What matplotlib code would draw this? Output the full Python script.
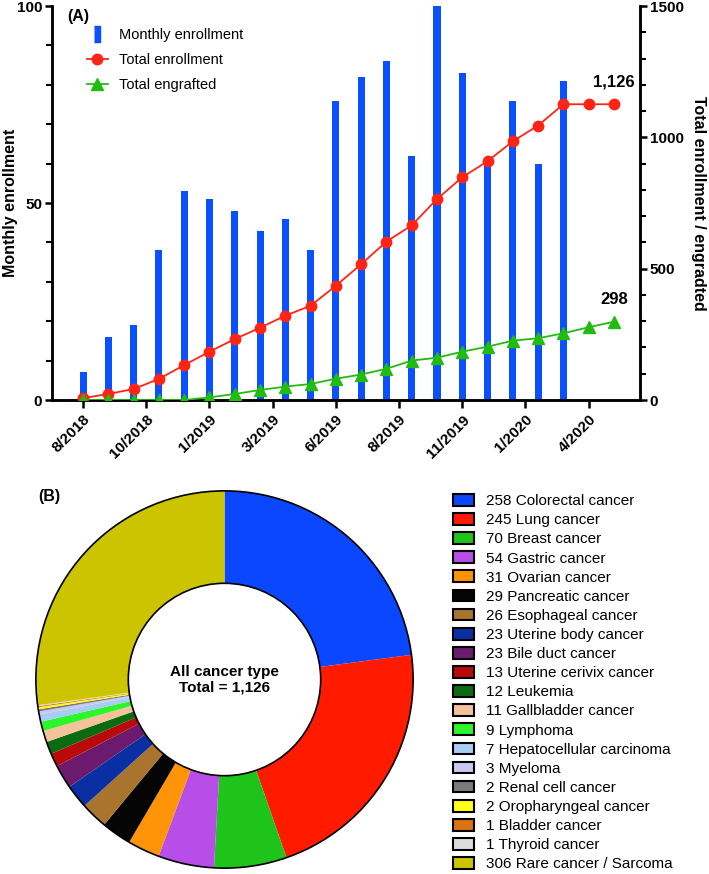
import numpy as np
import matplotlib
matplotlib.use("Agg")
from matplotlib import pyplot as plt
from matplotlib.lines import Line2D
from matplotlib.patches import Patch, Circle
from matplotlib.ticker import MultipleLocator

# ---- data (A) ----
months = np.arange(22)
monthly = [7, 16, 19, 38, 53, 51, 48, 43, 46, 38, 76, 82, 86, 62, 100, 83, 61, 76, 60, 81]
total_enrolled = [7, 23, 42, 80, 133, 184, 232, 275, 321, 359, 435, 517, 603, 665, 765,
                  848, 909, 985, 1045, 1126, 1126, 1126]
total_engrafted = [0, 0, 0, 0, 0, 10, 23, 38, 51, 61, 81, 97, 119, 150, 161, 184, 203,
                   226, 235, 254, 277, 298]
tick_pos = [0, 2.5, 5, 7.5, 10, 12.5, 15, 17.5, 20]
tick_labels = ["8/2018", "10/2018", "1/2019", "3/2019", "6/2019", "8/2019",
               "11/2019", "1/2020", "4/2020"]

# ---- data (B) ----
cancer_counts = [258, 245, 70, 54, 31, 29, 26, 23, 23, 13, 12, 11, 9, 7, 3, 2, 2, 1, 1, 306]
cancer_names = ["Colorectal cancer", "Lung cancer", "Breast cancer", "Gastric cancer",
                "Ovarian cancer", "Pancreatic cancer", "Esophageal cancer",
                "Uterine body cancer", "Bile duct cancer", "Uterine cerivix cancer",
                "Leukemia", "Gallbladder cancer", "Lymphoma", "Hepatocellular carcinoma",
                "Myeloma", "Renal cell cancer", "Oropharyngeal cancer", "Bladder cancer",
                "Thyroid cancer", "Rare cancer / Sarcoma"]
cancer_colors = ["#0a47ff", "#ff1a00", "#1fc41a", "#b84ee8", "#ff9408", "#050505",
                 "#a8742e", "#0a2fa3", "#6b1a6e", "#b80a0a", "#0b6b12", "#f5c29a",
                 "#2cf52c", "#a8cdf5", "#c9c9f5", "#7a7a7a", "#ffff1a", "#d9720f",
                 "#dcdcdc", "#cdc400"]

plt.rcParams["font.family"] = ["Liberation Sans", "DejaVu Sans"]

fig = plt.figure(figsize=(7.09, 8.74), dpi=100)

# ---------- panel A ----------
ax = fig.add_axes([52/709, 1-400/874, 588/709, 394/874])
ax2 = ax.twinx()
ax.set_zorder(ax2.get_zorder() - 1)
ax.patch.set_visible(True)
ax2.patch.set_visible(False)

bar_blue = "#0a50ff"
ax.bar(months[:len(monthly)], monthly, width=0.28, color=bar_blue, zorder=2)
ax2.plot(months, total_enrolled, "-o", color="#ff2415", lw=1.3, ms=7.5, zorder=3)
ax2.plot(months, total_engrafted, "-^", color="#22bb11", lw=1.3, ms=8, zorder=4)

ax.set_xlim(-1.23, 22.03)
ax.set_ylim(0, 100)
ax2.set_ylim(0, 1500)
ax.yaxis.set_major_locator(MultipleLocator(50))
ax.yaxis.set_minor_locator(MultipleLocator(10))
ax2.yaxis.set_major_locator(MultipleLocator(500))
ax2.yaxis.set_minor_locator(MultipleLocator(100))
ax.set_xticks(tick_pos)
ax.set_xticklabels(tick_labels, rotation=45, ha="right", rotation_mode="anchor",
                   fontweight="bold", fontsize=10)

for a in (ax, ax2):
    a.spines["top"].set_visible(False)
    for s in ("left", "right", "bottom"):
        a.spines[s].set_linewidth(1.8)
    a.tick_params(which="major", width=1.8, length=5, labelsize=11, pad=2)
    a.tick_params(which="minor", width=1.5, length=4)
    for lab in a.get_yticklabels():
        lab.set_fontweight("bold")
ax.tick_params(axis="x", which="major", length=6, pad=3)

ax.set_ylabel("Monthly enrollment", fontweight="bold", fontsize=11.5)
ax.yaxis.set_label_coords(-0.057, 0.5)
ax2.set_ylabel("Total enrollment / engradted", fontweight="bold", fontsize=11.5,
               rotation=270, va="center")
ax2.yaxis.set_label_coords(1.10, 0.5)

ax2.text(21, 1210, "1,126", ha="center", va="center", fontweight="bold", fontsize=12)
ax2.text(21, 381, "298", ha="center", va="center", fontweight="bold", fontsize=12)
fig.text(67/709, 1-16/874, "(A)", fontweight="bold", fontsize=11.5, va="center")

bar_handle = Line2D([], [], ls="none", marker=[(-0.35, -1), (0.35, -1), (0.35, 1), (-0.35, 1)],
                    ms=12, color=bar_blue, mec=bar_blue)
red_handle = Line2D([], [], color="#ff2415", marker="o", lw=1.3, ms=7.5)
green_handle = Line2D([], [], color="#22bb11", marker="^", lw=1.3, ms=8)
ax.legend([bar_handle, red_handle, green_handle],
          ["Monthly enrollment", "Total enrollment", "Total engrafted"],
          loc="upper left", bbox_to_anchor=(0.06, 0.945), frameon=False,
          fontsize=10.5, labelspacing=0.78, handlelength=1.4, handletextpad=0.75,
          borderpad=0, borderaxespad=0)

# ---------- panel B ----------
axp = fig.add_axes([34/709, 4/874, 381/709, 381/874])
axp.pie(cancer_counts, colors=cancer_colors, startangle=90, counterclock=False,
        radius=1.0, wedgeprops=dict(width=0.49, linewidth=0))
axp.add_patch(Circle((0, 0), 1.0, fill=False, lw=1.2, ec="black"))
axp.add_patch(Circle((0, 0), 0.51, fill=False, lw=1.2, ec="black"))
axp.set_xlim(-1.01, 1.01)
axp.set_ylim(-1.01, 1.01)
axp.set_aspect("equal")
axp.text(0, 0, "All cancer type\nTotal = 1,126", ha="center", va="center",
         fontweight="bold", fontsize=11, linespacing=1.1)
fig.text(38/709, 1-497/874, "(B)", fontweight="bold", fontsize=11.5, va="center")

handles = [Patch(facecolor=c, edgecolor="black", linewidth=1.5) for c in cancer_colors]
labels = [f"{n} {name}" for n, name in zip(cancer_counts, cancer_names)]
fig.legend(handles, labels, loc="upper left", bbox_to_anchor=(453/709, 1-494/874),
           frameon=False, fontsize=11, labelspacing=0.325, handlelength=1.4,
           handleheight=0.8, handletextpad=0.75, borderpad=0, borderaxespad=0)

fig.savefig("out.png", dpi=100)
